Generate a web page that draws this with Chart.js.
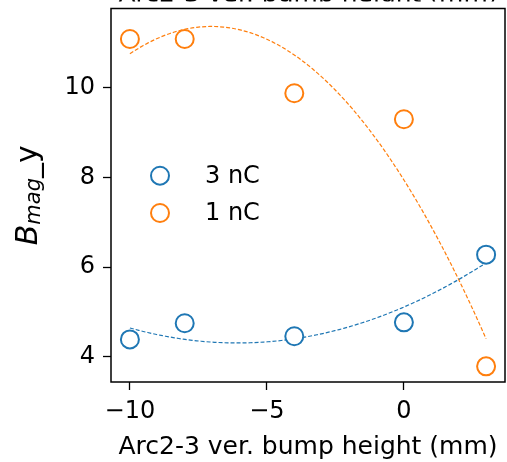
<!DOCTYPE html>
<html>
<head>
<meta charset="utf-8">
<script src="https://cdn.jsdelivr.net/npm/chart.js@4"></script>
<style>
  body { margin: 0; background: #fff; overflow: hidden; }
  canvas { display: block; }
</style>
</head>
<body>
<canvas id="grafico" width="507" height="462"></canvas>
<script>
const alturas = [-10, -8, -4, 0, 3]
const bmag_3nC = [4.39, 4.75, 4.46, 4.77, 6.28]
const bmag_1nC = [11.09, 11.09, 9.88, 9.30, 3.79]
const series = ['3 nC', '1 nC']
const ticks_x = [-10, -5, 0]
const ticks_y = [4, 6, 8, 10]
const titulo_x = 'Arc2-3 ver. bump height (mm)'

const AZUL = '#1f77b4'
const NARANJA = '#ff7f0e'
const FUENTE = '"DejaVu Sans", sans-serif'

// ajuste cuadratico por minimos cuadrados (ecuaciones normales, Cramer)
function ajuste_cuadratico(xs, ys) {
    let s = [0, 0, 0, 0, 0], t = [0, 0, 0]
    for (let i = 0; i < xs.length; i++) {
        let p = 1
        for (let k = 0; k < 5; k++) {
            s[k] += p
            if (k < 3) t[k] += p * ys[i]
            p *= xs[i]
        }
    }
    const m = [[s[0], s[1], s[2]], [s[1], s[2], s[3]], [s[2], s[3], s[4]]]
    const det = a => a[0][0] * (a[1][1] * a[2][2] - a[1][2] * a[2][1])
        - a[0][1] * (a[1][0] * a[2][2] - a[1][2] * a[2][0])
        + a[0][2] * (a[1][0] * a[2][1] - a[1][1] * a[2][0])
    const d = det(m)
    return [0, 1, 2].map(j => det(m.map((fila, i) => fila.map((v, k) => k === j ? t[i] : v))) / d)
}

function curva(xs, ys) {
    const c = ajuste_cuadratico(xs, ys)
    const x0 = xs[0], x1 = xs[xs.length - 1]
    const puntos = []
    for (let i = 0; i <= 80; i++) {
        const x = x0 + (x1 - x0) * i / 80
        puntos.push({ x: x, y: c[0] + c[1] * x + c[2] * x * x })
    }
    return puntos
}

const puntos = ys => alturas.map((x, i) => ({ x: x, y: ys[i] }))
const menos = v => v < 0 ? '\u2212' + Math.abs(v) : '' + v

const textos = {
    id: 'textos',
    afterDraw(chart) {
        const ctx = chart.ctx
        const area = chart.chartArea
        const cx = (area.left + area.right) / 2
        const cy = (area.top + area.bottom) / 2
        ctx.save()

        // marco
        ctx.strokeStyle = '#000'
        ctx.lineWidth = 1.5
        ctx.strokeRect(area.left, area.top, area.right - area.left, area.bottom - area.top)

        ctx.fillStyle = '#000'
        ctx.textAlign = 'center'
        ctx.textBaseline = 'alphabetic'
        ctx.font = `25px ${FUENTE}`
        ctx.fillText(titulo_x, cx, 454)

        // titulo superior, queda casi todo fuera del lienzo
        ctx.save()
        ctx.beginPath()
        ctx.rect(0, 0, chart.width, 1.5)
        ctx.clip()
        ctx.fillText(titulo_x, cx, 1.5)
        ctx.restore()

        // etiqueta y: B_{mag}_y
        ctx.translate(37, cy)
        ctx.rotate(-Math.PI / 2)
        ctx.textAlign = 'left'
        const fB = `italic 30px ${FUENTE}`, fSub = `italic 21px ${FUENTE}`, fY = `30px ${FUENTE}`
        ctx.font = fB; const wB = ctx.measureText('B').width
        ctx.font = fSub; const wSub = ctx.measureText('mag').width
        ctx.font = fY; const wY = ctx.measureText('_y').width
        let x = -(wB + wSub + wY) / 2
        ctx.font = fB; ctx.fillText('B', x, 0); x += wB
        ctx.font = fSub; ctx.fillText('mag', x, 3); x += wSub
        ctx.font = fY; ctx.fillText('_y', x, 0)
        ctx.restore()

        // leyenda
        ctx.save()
        const colores = [AZUL, NARANJA]
        ctx.font = `24px ${FUENTE}`
        ctx.textBaseline = 'middle'
        series.forEach((nombre, i) => {
            const y = 175.7 + i * 37.3
            ctx.beginPath()
            ctx.arc(160, y, 9, 0, Math.PI * 2)
            ctx.fillStyle = '#fff'
            ctx.fill()
            ctx.lineWidth = 2
            ctx.strokeStyle = colores[i]
            ctx.stroke()
            ctx.fillStyle = '#000'
            ctx.fillText(nombre, 205, y + 1)
        })
        ctx.restore()
    }
}

const marcador = color => ({
    showLine: false,
    pointRadius: 9,
    pointHoverRadius: 9,
    pointBorderWidth: 2,
    borderColor: color,
    pointBorderColor: color,
    pointBackgroundColor: '#fff',
    order: 0
})

const ajuste = color => ({
    showLine: true,
    pointRadius: 0,
    borderColor: color,
    borderWidth: 1.2,
    borderDash: [4, 2],
    fill: false,
    order: 1
})

new Chart(document.getElementById('grafico'), {
    type: 'scatter',
    data: {
        datasets: [
            { label: series[0], data: puntos(bmag_3nC), ...marcador(AZUL) },
            { label: series[1], data: puntos(bmag_1nC), ...marcador(NARANJA) },
            { label: 'fit 3 nC', data: curva(alturas, bmag_3nC), ...ajuste(AZUL) },
            { label: 'fit 1 nC', data: curva(alturas, bmag_1nC), ...ajuste(NARANJA) }
        ]
    },
    options: {
        responsive: false,
        animation: false,
        layout: { autoPadding: false, padding: { top: 8.5, right: 2, left: 0, bottom: 0 } },
        plugins: { legend: { display: false }, tooltip: { enabled: false } },
        scales: {
            x: {
                type: 'linear',
                min: -10.69,
                max: 3.69,
                afterBuildTicks: axis => { axis.ticks = ticks_x.map(v => ({ value: v })) },
                afterFit: axis => {
                    axis.height = 80
                    axis.paddingLeft = 0
                    axis.paddingRight = 0
                },
                border: { display: false },
                grid: { drawOnChartArea: false, drawTicks: true, tickLength: 8, tickWidth: 1.3, tickColor: '#000' },
                ticks: { color: '#000', font: { family: FUENTE, size: 24 }, padding: 7, callback: menos, maxRotation: 0 }
            },
            y: {
                type: 'linear',
                min: 3.44,
                max: 11.77,
                afterBuildTicks: axis => { axis.ticks = ticks_y.map(v => ({ value: v })) },
                afterFit: axis => {
                    axis.width = 111
                    axis.paddingTop = 0
                    axis.paddingBottom = 0
                },
                border: { display: false },
                grid: { drawOnChartArea: false, drawTicks: true, tickLength: 8, tickWidth: 1.3, tickColor: '#000' },
                ticks: { color: '#000', font: { family: FUENTE, size: 24 }, padding: 8, callback: menos }
            }
        }
    },
    plugins: [textos]
})
</script>
</body>
</html>
